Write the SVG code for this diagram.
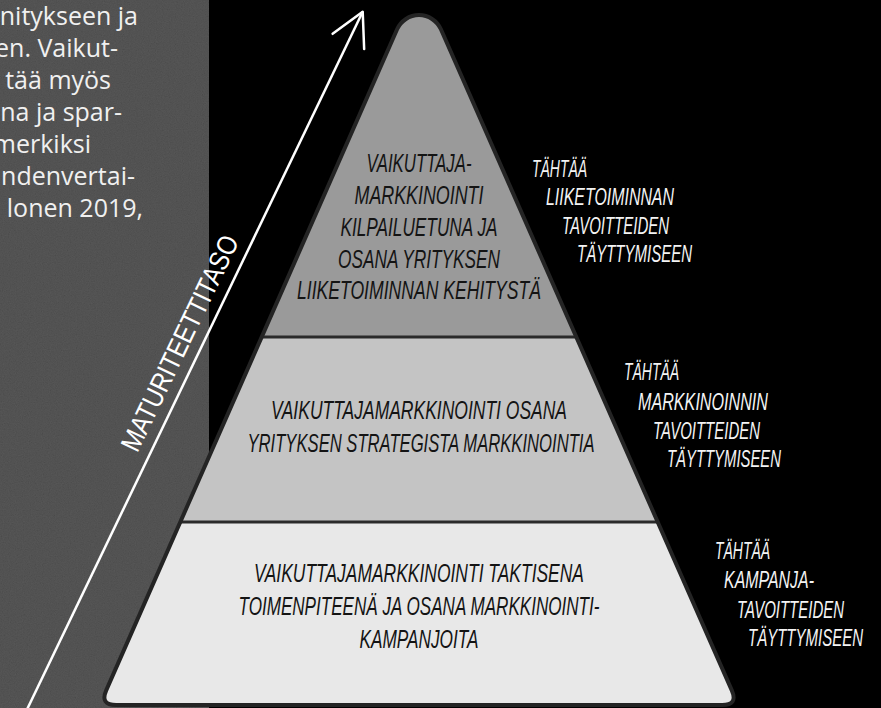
<svg xmlns="http://www.w3.org/2000/svg" width="881" height="708" viewBox="0 0 881 708">
  <defs>
    <style>
      .intro { font-family: "Open Sans", "Noto Sans", sans-serif; font-size: 25px; fill: #f0f0f0; text-anchor: end; }
      .tier { font-family: "Liberation Sans", Arial, sans-serif; font-style: italic; font-size: 26.5px; fill: #141414; text-anchor: middle; }
      .goal { font-family: "Liberation Sans", Arial, sans-serif; font-style: italic; font-size: 24px; fill: #f4f4f4; }
      .axis { font-family: "Liberation Sans", Arial, sans-serif; font-size: 28px; fill: #ffffff; }
      .divider { stroke: #2a2a2a; stroke-width: 3; fill: none; }
      .outline { stroke: #242424; stroke-width: 4; fill: none; stroke-linejoin: round; }
    </style>
    <filter id="grain" x="0" y="0" width="100%" height="100%">
      <feTurbulence type="fractalNoise" baseFrequency="0.85" numOctaves="3" seed="7" result="n"/>
      <feColorMatrix in="n" type="matrix" values="0.33 0.33 0.33 0 0  0.33 0.33 0.33 0 0  0.33 0.33 0.33 0 0  0 0 0 0 0.14"/>
    </filter>
    <clipPath id="pyr">
      <path id="pyrShape" d="M397.1 29.3 A24 24 0 0 1 440.9 29.3 L731.8 690.4 Q738.2 705 722.2 705 L116.2 705 Q99.8 705 106.2 690.4 Z"/>
    </clipPath>
    <marker id="head" markerUnits="userSpaceOnUse" viewBox="-40 -25 45 50" refX="0" refY="0" markerWidth="45" markerHeight="50" orient="auto" overflow="visible">
      <path d="M-33 -17.5 L0 0 L-33 17.5" fill="none" stroke="#ffffff" stroke-width="2.5" stroke-linejoin="round" stroke-linecap="round"/>
    </marker>
  </defs>

  <!-- backgrounds -->
  <rect x="0" y="0" width="881" height="708" fill="#000000"/>
  <rect x="0" y="0" width="209" height="708" fill="#414141"/>
  <rect x="0" y="0" width="209" height="708" fill="#808080" filter="url(#grain)"/>

  <g id="intro-text">
    <text class="intro" x="138" y="25">nitykseen ja</text>
    <text class="intro" x="118" y="57">en. Vaikut-</text>
    <text class="intro" x="111" y="89">tää myös</text>
    <text class="intro" x="122" y="121">na ja spar-</text>
    <text class="intro" x="91" y="153">merkiksi</text>
    <text class="intro" x="135" y="185">ndenvertai-</text>
    <text class="intro" x="143" y="217">lonen 2019,</text>
  </g>

  <!-- pyramid tiers -->
  <g id="tier-top">
    <rect x="90" y="0" width="660" height="337" fill="#9a9a9a" clip-path="url(#pyr)"/>
    <text class="tier" x="419" y="172" textLength="105" lengthAdjust="spacingAndGlyphs">VAIKUTTAJA-</text>
    <text class="tier" x="419" y="204" textLength="129" lengthAdjust="spacingAndGlyphs">MARKKINOINTI</text>
    <text class="tier" x="419" y="236" textLength="157" lengthAdjust="spacingAndGlyphs">KILPAILUETUNA JA</text>
    <text class="tier" x="419" y="268" textLength="162" lengthAdjust="spacingAndGlyphs">OSANA YRITYKSEN</text>
    <text class="tier" x="419" y="299" textLength="244" lengthAdjust="spacingAndGlyphs">LIIKETOIMINNAN KEHITYSTÄ</text>
  </g>
  <g id="tier-middle">
    <rect x="90" y="337" width="660" height="185" fill="#c4c4c4" clip-path="url(#pyr)"/>
    <text class="tier" x="419" y="419" textLength="296" lengthAdjust="spacingAndGlyphs">VAIKUTTAJAMARKKINOINTI OSANA</text>
    <text class="tier" x="421" y="452" textLength="347" lengthAdjust="spacingAndGlyphs">YRITYKSEN STRATEGISTA MARKKINOINTIA</text>
  </g>
  <g id="tier-bottom">
    <rect x="90" y="522" width="660" height="190" fill="#e8e8e8" clip-path="url(#pyr)"/>
    <text class="tier" x="419" y="582" textLength="330" lengthAdjust="spacingAndGlyphs">VAIKUTTAJAMARKKINOINTI TAKTISENA</text>
    <text class="tier" x="419" y="615" textLength="361" lengthAdjust="spacingAndGlyphs">TOIMENPITEENÄ JA OSANA MARKKINOINTI-</text>
    <text class="tier" x="419" y="648" textLength="119" lengthAdjust="spacingAndGlyphs">KAMPANJOITA</text>
  </g>
  <g id="pyramid-outline">
    <line class="divider" x1="261.7" y1="337" x2="576.3" y2="337"/>
    <line class="divider" x1="180.3" y1="522" x2="657.7" y2="522"/>
    <use href="#pyrShape" class="outline"/>
  </g>

  <!-- goals -->
  <g id="goal-top">
    <text class="goal" x="532" y="177" textLength="55" lengthAdjust="spacingAndGlyphs">TÄHTÄÄ</text>
    <text class="goal" x="546" y="205" textLength="128" lengthAdjust="spacingAndGlyphs">LIIKETOIMINNAN</text>
    <text class="goal" x="562" y="234" textLength="107" lengthAdjust="spacingAndGlyphs">TAVOITTEIDEN</text>
    <text class="goal" x="577" y="262" textLength="115" lengthAdjust="spacingAndGlyphs">TÄYTTYMISEEN</text>
  </g>
  <g id="goal-middle">
    <text class="goal" x="624" y="380" textLength="55" lengthAdjust="spacingAndGlyphs">TÄHTÄÄ</text>
    <text class="goal" x="638" y="410" textLength="130" lengthAdjust="spacingAndGlyphs">MARKKINOINNIN</text>
    <text class="goal" x="653" y="439" textLength="107" lengthAdjust="spacingAndGlyphs">TAVOITTEIDEN</text>
    <text class="goal" x="667" y="467" textLength="114" lengthAdjust="spacingAndGlyphs">TÄYTTYMISEEN</text>
  </g>
  <g id="goal-bottom">
    <text class="goal" x="715" y="559" textLength="55" lengthAdjust="spacingAndGlyphs">TÄHTÄÄ</text>
    <text class="goal" x="724" y="588" textLength="90" lengthAdjust="spacingAndGlyphs">KAMPANJA-</text>
    <text class="goal" x="737" y="618" textLength="107" lengthAdjust="spacingAndGlyphs">TAVOITTEIDEN</text>
    <text class="goal" x="748" y="646" textLength="115" lengthAdjust="spacingAndGlyphs">TÄYTTYMISEEN</text>
  </g>

  <!-- maturity axis -->
  <g id="connectors">
    <line x1="25.8" y1="712" x2="362.7" y2="11.7" stroke="#ffffff" stroke-width="2.5" marker-end="url(#head)"/>
  </g>
  <g id="axis-label" transform="translate(153.3 448) rotate(-64.3)">
    <text class="axis" x="-12" y="-12" textLength="236" lengthAdjust="spacingAndGlyphs">MATURITEETTITASO</text>
  </g>
</svg>
